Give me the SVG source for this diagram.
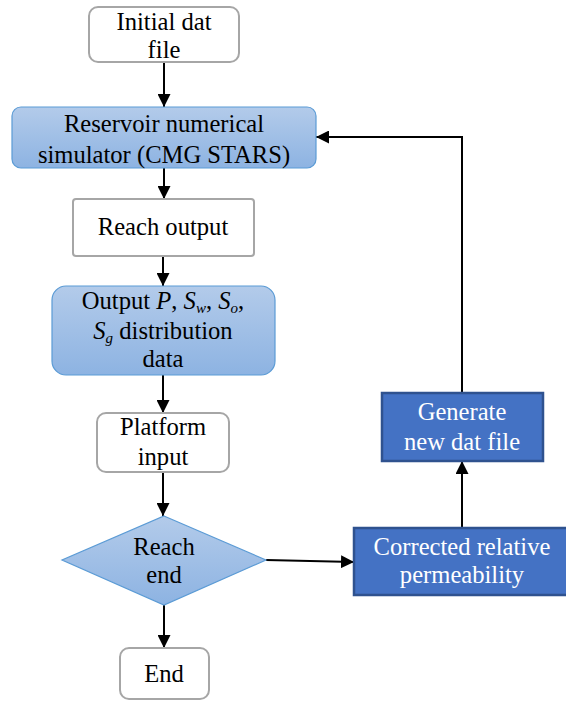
<svg xmlns="http://www.w3.org/2000/svg" width="566" height="701" viewBox="0 0 566 701">
  <style>
    text { font-family: "Liberation Serif", "Times New Roman", serif; font-size: 24.6px; fill: #000; text-anchor: middle; }
    .light { fill: #fff; stroke: #a6a6a6; stroke-width: 2; }
    .blue { fill: url(#lightBlue); stroke: #5b9bd5; stroke-width: 1.2; }
    .dark { fill: #4472c4; stroke: #2f528f; stroke-width: 2.5; }
    text.w { fill: #fff; }
    .sub { font-size: 15px; font-style: italic; }
    .conn { fill: none; stroke: #000; stroke-width: 2; marker-end: url(#arrow); }
  </style>
  <defs>
    <linearGradient id="lightBlue" x1="0" y1="0" x2="0" y2="1">
      <stop offset="0" stop-color="#b3cbea"/>
      <stop offset="1" stop-color="#8db3e2"/>
    </linearGradient>
    <marker id="arrow" viewBox="0 0 10 10" refX="10" refY="5" markerWidth="6.5" markerHeight="6.5" orient="auto" markerUnits="strokeWidth">
      <path d="M0,0 L10,5 L0,10 z" fill="#000"/>
    </marker>
  </defs>

  <g id="connectors">
    <path class="conn" d="M164,62 V107"/>
    <path class="conn" d="M164,168 V199"/>
    <path class="conn" d="M163,256 V286"/>
    <path class="conn" d="M163,375 V413"/>
    <path class="conn" d="M163,472 V516"/>
    <path class="conn" d="M164,605 V648"/>
    <path class="conn" d="M266,560 L354,562"/>
    <path class="conn" d="M462,528 V461"/>
    <path class="conn" d="M462,393 V137 H316"/>
  </g>

  <g id="initial">
    <rect class="light" x="89" y="7" width="150" height="55" rx="9"/>
    <text x="164" y="30">Initial dat</text>
    <text x="164" y="58">file</text>
  </g>

  <g id="simulator">
    <rect class="blue" x="12" y="107" width="304" height="61" rx="9"/>
    <text x="164" y="132">Reservoir numerical</text>
    <text x="164" y="163">simulator (CMG STARS)</text>
  </g>

  <g id="reach-output">
    <rect class="light" x="73" y="199" width="181" height="57" rx="3"/>
    <text x="163" y="235">Reach output</text>
  </g>

  <g id="output-data">
    <rect class="blue" x="52" y="286" width="223" height="89" rx="14"/>
    <text x="163" y="309">Output <tspan font-style="italic">P</tspan>, <tspan font-style="italic">S</tspan><tspan class="sub" dy="4">w</tspan><tspan dy="-4">, </tspan><tspan font-style="italic">S</tspan><tspan class="sub" dy="4">o</tspan><tspan dy="-4">,</tspan></text>
    <text x="163" y="339"><tspan font-style="italic">S</tspan><tspan class="sub" dy="4">g</tspan><tspan dy="-4"> distribution</tspan></text>
    <text x="163" y="367">data</text>
  </g>

  <g id="platform-input">
    <rect class="light" x="97" y="413" width="132" height="59" rx="9"/>
    <text x="163" y="435">Platform</text>
    <text x="163" y="465">input</text>
  </g>

  <g id="reach-end">
    <polygon points="164,516 266,560 164,605 62,560" fill="url(#lightBlue)" stroke="#5b9bd5" stroke-width="1.2"/>
    <text x="164" y="555">Reach</text>
    <text x="164" y="583">end</text>
  </g>

  <g id="end">
    <rect class="light" x="120" y="648" width="89" height="51" rx="9"/>
    <text x="164" y="682">End</text>
  </g>

  <g id="generate">
    <rect class="dark" x="382" y="393" width="161" height="68"/>
    <text class="w" x="462" y="420">Generate</text>
    <text class="w" x="462" y="450">new dat file</text>
  </g>

  <g id="corrected">
    <rect class="dark" x="354" y="528" width="214" height="67"/>
    <text class="w" x="462" y="555">Corrected relative</text>
    <text class="w" x="462" y="583">permeability</text>
  </g>
</svg>
